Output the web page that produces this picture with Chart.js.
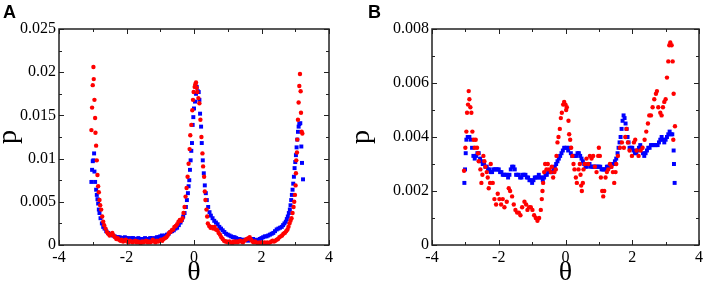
<!DOCTYPE html>
<html>
<head>
<meta charset="utf-8">
<script src="https://cdn.jsdelivr.net/npm/chart.js@4.4.1/dist/chart.umd.min.js"></script>
<style>
  body { margin: 0; background: #fff; }
  #wrap { position: relative; width: 706px; height: 283px; }
  canvas { position: absolute; top: 0; }
  #overlay { left: 0; pointer-events: none; }
  .lbl { position: absolute; top: 2px; font: bold 18px "Liberation Sans", Arial, sans-serif; }
</style>
</head>
<body>
<div id="wrap">
  <canvas id="chartA" width="353" height="283" style="left:0"></canvas>
  <canvas id="chartB" width="353" height="283" style="left:353px"></canvas>
  <canvas id="overlay" width="706" height="283"></canvas>
  <div class="lbl" style="left:3px">A</div>
  <div class="lbl" style="left:368px">B</div>
</div>
<script>
// ---- ticks ----
const xTicks = [-4, -2, 0, 2, 4];
const xMinor = [-3, -1, 1, 3];
const yTicksA = [0, 0.005, 0.01, 0.015, 0.02, 0.025];
const yMinorA = [0.0025, 0.0075, 0.0125, 0.0175, 0.0225];
const yTicksB = [0, 0.002, 0.004, 0.006, 0.008];
const yMinorB = [0.001, 0.003, 0.005, 0.007];

// ---- panel A ----
const thetaRedA = [-3.04,-3.02,-3.00,-2.98,-2.97,-2.95,-2.93,-2.92,-2.90,-2.88,-2.86,-2.84,-2.82,-2.80,-2.78,-2.75,-2.72,-2.69,-2.66,-2.62,
  -2.58,-2.54,-2.50,-2.46,-2.42,-2.38,-2.34,-2.30,-2.26,-2.22,-2.18,-2.14,-2.10,-2.06,-2.02,-1.98,-1.94,-1.90,-1.86,-1.82,
  -1.78,-1.74,-1.70,-1.66,-1.62,-1.58,-1.54,-1.50,-1.46,-1.42,-1.38,-1.34,-1.30,-1.26,-1.22,-1.18,-1.14,-1.10,-1.06,-1.02,
  -0.98,-0.94,-0.90,-0.86,-0.82,-0.78,-0.74,-0.70,-0.66,-0.62,-0.58,-0.54,-0.50,-0.46,-0.42,-0.38,-0.34,-0.31,-0.28,-0.25,
  -0.22,-0.19,-0.16,-0.13,-0.11,-0.08,-0.05,-0.03,-0.01,0.02,0.04,0.06,0.08,0.10,0.13,0.16,0.19,0.22,0.25,0.27,
  0.30,0.32,0.34,0.37,0.39,0.41,0.45,0.49,0.53,0.57,0.61,0.65,0.69,0.73,0.77,0.81,0.85,0.89,0.93,0.97,
  1.01,1.05,1.09,1.13,1.17,1.21,1.25,1.29,1.33,1.37,1.41,1.45,1.49,1.53,1.57,1.61,1.65,1.69,1.73,1.77,
  1.81,1.85,1.89,1.93,1.97,2.01,2.05,2.09,2.13,2.17,2.21,2.25,2.29,2.33,2.37,2.41,2.45,2.49,2.53,2.57,
  2.61,2.65,2.69,2.73,2.77,2.80,2.83,2.86,2.89,2.92,2.95,2.97,2.99,3.01,3.02,3.03,3.05,3.06,3.08,3.10,
  3.12,3.14,3.16,3.17,3.19,3.21];
const pRedA = [0.0133,0.0159,0.0185,0.0206,0.0192,0.0168,0.0147,0.0130,0.0115,0.0098,0.0081,0.0068,0.0061,0.0052,0.0046,0.0041,0.0033,0.0027,0.0023,0.0019,
  0.0015,0.0013,0.0011,0.0012,0.0014,0.0011,0.0009,0.0007,0.0008,0.0006,0.0005,0.0006,0.0004,0.0005,0.0006,0.0004,0.0003,0.0005,0.0004,0.0003,
  0.0004,0.0005,0.0003,0.0004,0.0003,0.0002,0.0004,0.0003,0.0004,0.0005,0.0003,0.0004,0.0003,0.0004,0.0006,0.0004,0.0003,0.0005,0.0004,0.0005,
  0.0006,0.0005,0.0007,0.0008,0.0009,0.0011,0.0014,0.0015,0.0017,0.0018,0.0021,0.0022,0.0024,0.0027,0.0029,0.0028,0.0031,0.0037,0.0044,0.0056,
  0.0066,0.0079,0.0094,0.0111,0.0127,0.0139,0.0156,0.0168,0.0177,0.0183,0.0186,0.0188,0.0182,0.0177,0.0170,0.0164,0.0145,0.0125,0.0106,0.0091,
  0.0079,0.0062,0.0052,0.0041,0.0033,0.0025,0.0022,0.0020,0.0021,0.0019,0.0021,0.0018,0.0017,0.0014,0.0012,0.0009,0.0007,0.0005,0.0004,0.0004,
  0.0003,0.0004,0.0003,0.0002,0.0004,0.0003,0.0004,0.0003,0.0004,0.0005,0.0004,0.0003,0.0005,0.0006,0.0007,0.0008,0.0009,0.0006,0.0004,0.0003,
  0.0004,0.0003,0.0002,0.0003,0.0002,0.0003,0.0002,0.0003,0.0002,0.0003,0.0002,0.0003,0.0004,0.0005,0.0004,0.0005,0.0006,0.0007,0.0009,0.0010,
  0.0011,0.0013,0.0014,0.0016,0.0018,0.0021,0.0025,0.0028,0.0031,0.0037,0.0044,0.0050,0.0058,0.0069,0.0083,0.0098,0.0107,0.0122,0.0145,0.0165,
  0.0184,0.0198,0.0178,0.0153,0.0131,0.0129];

const thetaBlueA = [-3.04,-3.02,-3.00,-2.98,-2.96,-2.95,-2.93,-2.90,-2.88,-2.86,-2.84,-2.82,-2.80,-2.77,-2.73,-2.69,-2.65,-2.60,-2.55,-2.50,
  -2.45,-2.40,-2.35,-2.30,-2.25,-2.20,-2.15,-2.10,-2.05,-2.00,-1.95,-1.90,-1.85,-1.80,-1.75,-1.70,-1.65,-1.60,-1.55,-1.50,
  -1.45,-1.40,-1.35,-1.30,-1.25,-1.20,-1.15,-1.10,-1.05,-1.00,-0.95,-0.90,-0.85,-0.80,-0.75,-0.70,-0.65,-0.60,-0.55,-0.50,
  -0.45,-0.40,-0.36,-0.32,-0.28,-0.24,-0.21,-0.18,-0.16,-0.14,-0.12,-0.10,-0.08,-0.06,-0.04,-0.02,0.00,0.03,0.06,0.08,
  0.11,0.14,0.16,0.18,0.21,0.23,0.26,0.29,0.32,0.35,0.38,0.42,0.46,0.50,0.55,0.60,0.65,0.70,0.75,0.80,
  0.85,0.90,0.95,1.00,1.05,1.10,1.15,1.20,1.25,1.30,1.35,1.40,1.45,1.50,1.55,1.60,1.65,1.70,1.75,1.80,
  1.85,1.90,1.95,2.00,2.05,2.10,2.15,2.20,2.25,2.30,2.35,2.40,2.45,2.50,2.55,2.60,2.64,2.68,2.72,2.75,
  2.78,2.81,2.84,2.86,2.88,2.90,2.92,2.94,2.96,2.98,3.00,3.02,3.04,3.06,3.08,3.10,3.12,3.15,3.18,3.20,3.23];
const pBlueA = [0.0073,0.0087,0.0097,0.0098,0.0106,0.0085,0.0073,0.0064,0.0058,0.0053,0.0048,0.0041,0.0037,0.0031,0.0025,0.0021,0.0019,0.0016,0.0014,0.0013,
  0.0012,0.0011,0.0010,0.0009,0.0009,0.0009,0.0008,0.0008,0.0009,0.0008,0.0008,0.0007,0.0008,0.0008,0.0007,0.0007,0.0008,0.0007,0.0007,0.0007,
  0.0008,0.0007,0.0007,0.0008,0.0008,0.0007,0.0008,0.0009,0.0009,0.0010,0.0011,0.0010,0.0011,0.0012,0.0013,0.0015,0.0016,0.0017,0.0019,0.0020,
  0.0023,0.0026,0.0029,0.0033,0.0037,0.0044,0.0052,0.0060,0.0068,0.0075,0.0087,0.0098,0.0109,0.0118,0.0139,0.0148,0.0158,0.0166,0.0175,0.0183,
  0.0178,0.0177,0.0168,0.0152,0.0137,0.0118,0.0098,0.0083,0.0069,0.0060,0.0052,0.0044,0.0038,0.0034,0.0031,0.0028,0.0026,0.0024,0.0021,0.0019,
  0.0017,0.0015,0.0013,0.0012,0.0011,0.0010,0.0009,0.0009,0.0008,0.0007,0.0007,0.0006,0.0006,0.0006,0.0006,0.0005,0.0006,0.0006,0.0007,0.0006,
  0.0005,0.0006,0.0007,0.0008,0.0009,0.0010,0.0010,0.0011,0.0012,0.0013,0.0014,0.0016,0.0018,0.0019,0.0020,0.0021,0.0023,0.0025,0.0027,0.0030,
  0.0033,0.0037,0.0041,0.0046,0.0052,0.0058,0.0064,0.0071,0.0079,0.0089,0.0096,0.0104,0.0113,0.0122,0.0131,0.0137,0.0140,0.0141,0.0114,0.0095,0.0076];

// ---- panel B ----
const thetaRedB = [-3.04,-3.00,-2.97,-2.95,-2.92,-2.90,-2.88,-2.85,-2.82,-2.79,-2.75,-2.72,-2.69,-2.65,-2.62,-2.60,-2.55,-2.52,-2.49,-2.46,
  -2.43,-2.40,-2.36,-2.33,-2.30,-2.26,-2.24,-2.18,-2.13,-2.08,-2.03,-1.98,-1.93,-1.88,-1.83,-1.76,-1.70,-1.66,-1.60,-1.55,
  -1.50,-1.45,-1.40,-1.35,-1.30,-1.23,-1.18,-1.14,-1.09,-1.04,-0.99,-0.94,-0.89,-0.84,-0.79,-0.74,-0.71,-0.69,-0.67,-0.64,
  -0.61,-0.57,-0.53,-0.49,-0.44,-0.41,-0.37,-0.33,-0.29,-0.27,-0.24,-0.21,-0.17,-0.14,-0.11,-0.07,-0.04,0.00,0.02,0.04,
  0.09,0.11,0.14,0.17,0.21,0.24,0.27,0.31,0.34,0.39,0.43,0.45,0.47,0.49,0.52,0.54,0.58,0.63,0.68,0.73,
  0.78,0.83,0.88,0.93,0.98,1.00,1.03,1.06,1.10,1.13,1.16,1.20,1.24,1.28,1.33,1.38,1.42,1.46,1.50,1.52,
  1.57,1.63,1.69,1.75,1.79,1.83,1.87,1.92,1.99,2.05,2.09,2.13,2.19,2.25,2.31,2.37,2.42,2.47,2.51,2.56,
  2.61,2.66,2.71,2.74,2.78,2.84,2.88,2.92,2.96,3.00,3.04,3.08,3.11,3.14,3.18,3.21,3.23,3.24,3.28];
const pRedB = [0.00275,0.0036,0.0042,0.0049,0.0052,0.0057,0.0054,0.0051,0.0049,0.0042,0.0039,0.0036,0.0039,0.0036,0.0034,0.0031,0.0028,0.0023,0.0026,0.0033,
  0.0031,0.0029,0.0027,0.0025,0.0021,0.0023,0.0030,0.0023,0.0017,0.0015,0.0019,0.0017,0.0015,0.0017,0.0014,0.0016,0.0021,0.0020,0.0018,0.0015,
  0.0013,0.0012,0.0012,0.0011,0.0014,0.0016,0.0015,0.0013,0.0014,0.0014,0.0013,0.0011,0.0010,0.0009,0.0010,0.0013,0.0017,0.0020,0.0023,0.0027,
  0.0030,0.0028,0.0030,0.0028,0.0027,0.0029,0.0025,0.0027,0.0028,0.0033,0.0038,0.0040,0.0043,0.0047,0.0049,0.0052,0.0053,0.0052,0.0050,0.0051,
  0.0046,0.0041,0.0039,0.0036,0.0033,0.0030,0.0028,0.0025,0.0023,0.0028,0.0030,0.0026,0.0022,0.0020,0.0023,0.0028,0.0030,0.0032,0.0030,0.0033,
  0.0032,0.0033,0.0029,0.0027,0.0033,0.0036,0.0033,0.0025,0.0020,0.0018,0.0020,0.0025,0.0027,0.0028,0.0030,0.0029,0.0027,0.0023,0.0027,0.0030,
  0.0033,0.0036,0.0038,0.0036,0.0040,0.0043,0.0038,0.0035,0.0033,0.0038,0.0039,0.0035,0.0033,0.0035,0.0036,0.0039,0.0042,0.0045,0.0048,0.0048,
  0.0051,0.0054,0.0056,0.0057,0.0051,0.0049,0.0048,0.0051,0.0053,0.0054,0.0062,0.0068,0.0074,0.0075,0.0074,0.0068,0.0039,0.0056,0.0044];

const thetaBlueB = [-3.03,-3.01,-2.99,-2.97,-2.93,-2.88,-2.84,-2.80,-2.76,-2.72,-2.68,-2.64,-2.60,-2.56,-2.52,-2.48,-2.44,-2.40,-2.36,-2.32,
  -2.28,-2.24,-2.20,-2.16,-2.12,-2.08,-2.04,-2.00,-1.96,-1.92,-1.88,-1.84,-1.80,-1.76,-1.72,-1.68,-1.64,-1.60,-1.56,-1.52,
  -1.48,-1.44,-1.40,-1.36,-1.32,-1.28,-1.24,-1.20,-1.16,-1.12,-1.08,-1.04,-1.00,-0.96,-0.92,-0.88,-0.84,-0.80,-0.76,-0.72,
  -0.68,-0.64,-0.60,-0.56,-0.52,-0.48,-0.44,-0.40,-0.36,-0.32,-0.28,-0.24,-0.20,-0.16,-0.12,-0.08,-0.04,0.00,0.04,0.08,
  0.12,0.16,0.20,0.24,0.28,0.32,0.36,0.40,0.44,0.48,0.52,0.56,0.60,0.64,0.68,0.72,0.76,0.80,0.84,0.88,
  0.92,0.96,1.00,1.04,1.08,1.12,1.16,1.20,1.24,1.28,1.32,1.36,1.40,1.44,1.48,1.52,1.56,1.59,1.62,1.65,
  1.68,1.71,1.74,1.77,1.80,1.83,1.86,1.89,1.92,1.96,2.00,2.04,2.08,2.12,2.16,2.20,2.24,2.28,2.32,2.36,
  2.40,2.44,2.48,2.52,2.56,2.60,2.64,2.68,2.72,2.76,2.80,2.84,2.88,2.92,2.96,3.00,3.04,3.08,3.12,3.16,
  3.20,3.24,3.25,3.27];
const pBlueB = [0.0023,0.0028,0.0034,0.0039,0.0040,0.0040,0.0039,0.0036,0.0033,0.0032,0.0033,0.0034,0.0034,0.0032,0.0031,0.0030,0.0030,0.0029,0.0029,0.0028,
  0.0028,0.0027,0.0027,0.0028,0.0028,0.0028,0.0028,0.0028,0.0027,0.0027,0.0026,0.0026,0.0026,0.0026,0.0025,0.0026,0.0028,0.0029,0.0029,0.0028,
  0.0026,0.0026,0.0026,0.0025,0.0025,0.0026,0.0026,0.0026,0.0025,0.0025,0.0024,0.0024,0.0023,0.0024,0.0025,0.0025,0.0025,0.0026,0.0025,0.0025,
  0.0024,0.0025,0.0026,0.0026,0.0027,0.0027,0.0027,0.0027,0.0028,0.0029,0.0030,0.0031,0.0032,0.0033,0.0034,0.0035,0.0036,0.0036,0.0036,0.0035,
  0.0036,0.0034,0.0033,0.0033,0.0033,0.0033,0.0034,0.0034,0.0033,0.0032,0.0031,0.0030,0.0029,0.0029,0.0030,0.0030,0.0029,0.0029,0.0029,0.0029,
  0.0029,0.0029,0.0029,0.0029,0.0028,0.0028,0.0028,0.0028,0.0029,0.0029,0.0029,0.0029,0.0030,0.0030,0.0031,0.0032,0.0034,0.0036,0.0038,0.0040,
  0.0043,0.0046,0.0048,0.0047,0.0045,0.0043,0.0040,0.0038,0.0036,0.0036,0.0036,0.0035,0.0034,0.0034,0.0035,0.0036,0.0037,0.0036,0.0034,0.0033,
  0.0034,0.0035,0.0036,0.0036,0.0037,0.0037,0.0037,0.0037,0.0037,0.0037,0.0038,0.0039,0.0040,0.0039,0.0038,0.0039,0.0040,0.0041,0.0042,0.0041,
  0.0041,0.0035,0.0030,0.0023];

const toPts = (xs, ys) => xs.map((t, i) => ({ x: t, y: ys[i] }));

// box + inward ticks, drawn on a separate overlay canvas from the chart's own scales
function drawFrame(chart, offsetX, yMajor, yMinor) {
  const ctx = document.getElementById('overlay').getContext('2d');
  const a = chart.chartArea;
  const xs = chart.scales.x, ys = chart.scales.y;
  const L = a.left + offsetX, R = a.right + offsetX, T = a.top, B = a.bottom;
  ctx.save();
  ctx.strokeStyle = '#222';
  ctx.lineWidth = 1;
  ctx.beginPath();
  const vt = (v, len) => {
    const px = Math.round(xs.getPixelForValue(v) + offsetX) + 0.5;
    ctx.moveTo(px, B); ctx.lineTo(px, B - len);
    ctx.moveTo(px, T); ctx.lineTo(px, T + len);
  };
  const ht = (v, len) => {
    const py = Math.round(ys.getPixelForValue(v)) + 0.5;
    ctx.moveTo(L, py); ctx.lineTo(L + len, py);
    ctx.moveTo(R, py); ctx.lineTo(R - len, py);
  };
  xTicks.forEach(v => vt(v, 5));
  xMinor.forEach(v => vt(v, 3));
  yMajor.forEach(v => ht(v, 5));
  yMinor.forEach(v => ht(v, 3));
  ctx.stroke();
  ctx.lineWidth = 1.5;
  ctx.strokeRect(L, T, R - L, B - T);
  ctx.restore();
}

function makeChart(id, offsetX, red, blue, yMax, yMajor, yMinor, yWidth, padRight) {
  const serif = 'Liberation Serif';
  const chart = new Chart(document.getElementById(id), {
    type: 'scatter',
    data: {
      datasets: [
        { data: red, pointStyle: 'circle', pointRadius: 2.2,
          backgroundColor: '#ff0000', borderWidth: 0 },
        { data: blue, pointStyle: 'rect', pointRadius: 2.8,
          backgroundColor: '#0000ff', borderWidth: 0 }
      ]
    },
    options: {
      responsive: false,
      animation: false,
      events: [],
      layout: { padding: { top: 29, right: padRight, left: 0, bottom: 0 } },
      plugins: { legend: { display: false }, tooltip: { enabled: false } },
      scales: {
        x: {
          type: 'linear', min: -4, max: 4,
          grid: { display: false, drawTicks: false }, border: { display: false },
          afterBuildTicks: s => { s.ticks = xTicks.map(v => ({ value: v })); },
          afterFit: s => { s.height = 38; },
          ticks: { color: '#000', padding: 3, font: { family: serif, size: 16 }, callback: v => String(v) },
          title: { display: true, text: 'θ', color: '#000', padding: { bottom: -4 },
                   font: { family: serif, size: 28, lineHeight: 1 } }
        },
        y: {
          type: 'linear', min: 0, max: yMax,
          grid: { display: false, drawTicks: false }, border: { display: false },
          afterBuildTicks: s => { s.ticks = yMajor.map(v => ({ value: v })); },
          afterFit: s => { s.width = yWidth; },
          ticks: { color: '#000', padding: 3, font: { family: serif, size: 16 },
                   callback: v => String(+v.toFixed(4)) },
          title: { display: true, text: 'p', color: '#000', padding: { top: -5 },
                   font: { family: serif, size: 28, lineHeight: 1 } }
        }
      }
    }
  });
  drawFrame(chart, offsetX, yMajor, yMinor);
}

makeChart('chartA', 0, toPts(thetaRedA, pRedA), toPts(thetaBlueA, pBlueA), 0.025, yTicksA, yMinorA, 59, 24);
makeChart('chartB', 353, toPts(thetaRedB, pRedB), toPts(thetaBlueB, pBlueB), 0.008, yTicksB, yMinorB, 79, 5);
</script>
</body>
</html>
